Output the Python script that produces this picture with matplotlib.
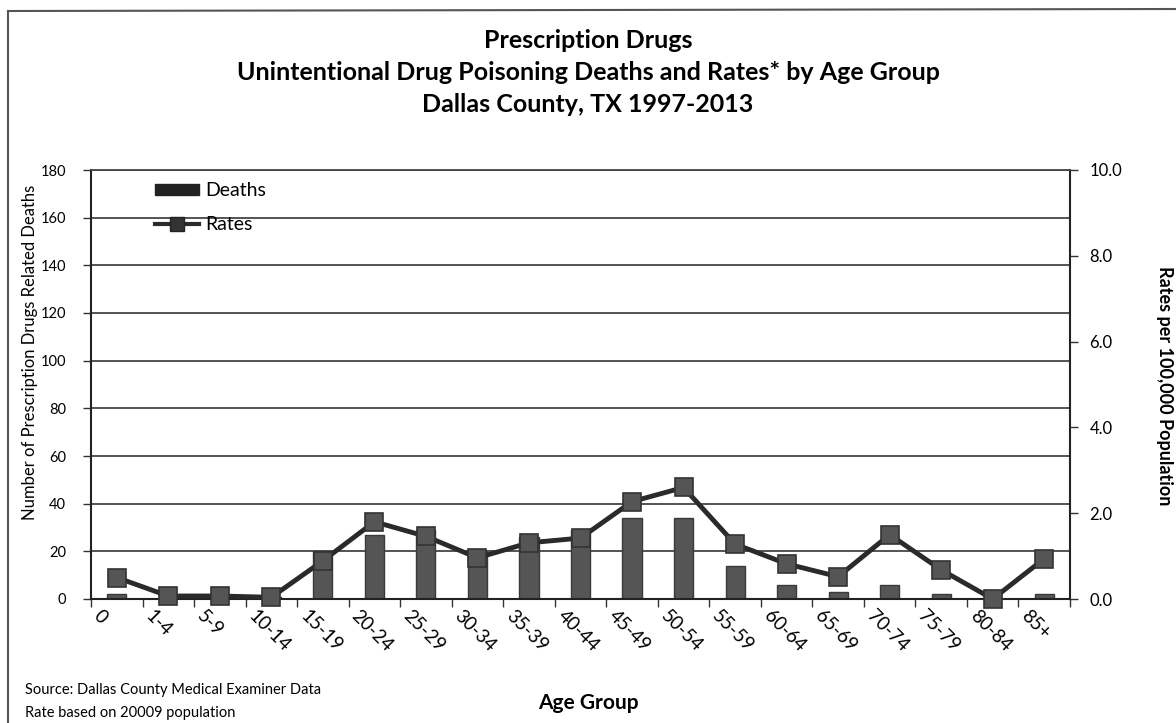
import numpy as np
import matplotlib
matplotlib.use('Agg')
import matplotlib.pyplot as plt
from matplotlib.patches import Patch
from matplotlib.lines import Line2D
from matplotlib.transforms import ScaledTranslation

plt.rcParams['font.family'] = ['Lato', 'DejaVu Sans']

age_groups = ['0', '1-4', '5-9', '10-14', '15-19', '20-24', '25-29', '30-34', '35-39',
              '40-44', '45-49', '50-54', '55-59', '60-64', '65-69', '70-74', '75-79',
              '80-84', '85+']
deaths = [2, 1, 1, 1, 20, 27, 29, 20, 26, 29, 34, 34, 14, 6, 3, 6, 2, 0, 2]
rates = [0.50, 0.07, 0.07, 0.04, 0.89, 1.80, 1.46, 0.96, 1.31, 1.42, 2.27, 2.60,
         1.28, 0.82, 0.52, 1.50, 0.68, 0.00, 0.94]

W, H = 1176, 723
fig = plt.figure(figsize=(W / 100, H / 100), dpi=100)

# plot area in pixels: left 91, right 1070, top 170, bottom 599
L, R, T, B = 91, 1070, 170, 599
ax = fig.add_axes([L / W, 1 - B / H, (R - L) / W, (B - T) / H])
x = np.arange(len(age_groups))

bar_color = '#555555'
ax.bar(x, deaths, width=0.37, color=bar_color, edgecolor='#3a3a3a', linewidth=1, zorder=2)
ax.set_xlim(-0.5, len(age_groups) - 0.5)
ax.set_ylim(0, 180)
ax.set_yticks(np.arange(0, 181, 20))
ax.yaxis.grid(True, color='#454545', linewidth=1.3)
ax.set_axisbelow(True)

ax.set_xticks(x)
ax.set_xticklabels(age_groups, rotation=-45, ha='left', va='top',
                   rotation_mode='anchor', fontsize=13.5)
ax.set_xticks(np.arange(-0.5, len(age_groups), 1), minor=True)
ax.tick_params(axis='x', which='major', length=0, pad=6)
ax.tick_params(axis='x', which='minor', length=6, width=1, color='#333333', direction='out')
ax.tick_params(axis='y', length=6, width=1, color='#333333', labelsize=10.5, pad=12)
shift = ScaledTranslation(-14 / 100, 0, fig.dpi_scale_trans)
for lbl in ax.get_xticklabels():
    lbl.set_transform(lbl.get_transform() + shift)

for side in ['left', 'right', 'bottom']:
    ax.spines[side].set_color('#222222')
    ax.spines[side].set_linewidth(1.5)
ax.spines['top'].set_color('#454545')
ax.spines['top'].set_linewidth(1.3)

ax2 = ax.twinx()
ax2.plot(x, rates, color='#2a2a2a', linewidth=3.5, marker='s', markersize=12.5,
         markerfacecolor=bar_color, markeredgecolor='#333333', markeredgewidth=1.2,
         clip_on=False, zorder=3)
ax2.set_ylim(0, 10)
ax2.set_yticks(np.arange(0, 10.1, 2))
ax2.set_yticklabels([f'{v:.1f}' for v in np.arange(0, 10.1, 2)])
ax2.tick_params(axis='y', length=6, width=1, color='#333333', labelsize=12, pad=8)
for side in ['left', 'right', 'bottom', 'top']:
    ax2.spines[side].set_visible(False)

# axis titles
fig.text(30 / W, 1 - 352 / H, 'Number of Prescription Drugs Related Deaths',
         rotation=90, ha='center', va='center', fontsize=12)
fig.text(1164 / W, 1 - 386 / H, 'Rates per 100,000 Population', rotation=-90,
         ha='center', va='center', fontsize=13, fontweight='bold')

handles = [Patch(facecolor='#222222', edgecolor='#222222'),
           Line2D([0], [0], color='#2a2a2a', linewidth=3, marker='s', markersize=10,
                  markerfacecolor='#333333', markeredgecolor='#222222')]
ax.legend(handles, ['Deaths', 'Rates'], loc='upper left', bbox_to_anchor=(0.047, 1.012),
          frameon=False, fontsize=14, handlelength=2.3, handleheight=0.55,
          handletextpad=0.3, labelspacing=0.85)

# titles
title_kw = dict(ha='center', va='center', fontsize=18, fontweight='bold')
fig.text(0.5, 1 - 40 / H, 'Prescription Drugs', **title_kw)
fig.text(0.5, 1 - 72 / H, 'Unintentional Drug Poisoning Deaths and Rates* by Age Group',
         **title_kw)
fig.text(0.5, 1 - 104 / H, 'Dallas County, TX 1997-2013', **title_kw)

fig.text(0.5, 1 - 703 / H, 'Age Group', ha='center', va='center',
         fontsize=15, fontweight='bold')
fig.text(25 / W, 1 - 690 / H, 'Source: Dallas County Medical Examiner Data',
         ha='left', va='center', fontsize=10.5)
fig.text(25 / W, 1 - 713 / H, 'Rate based on 20009 population',
         ha='left', va='center', fontsize=10.5)

# outer frame of the scanned chart box
frame_kw = dict(color='#555555', linewidth=1.5, transform=fig.transFigure)
fig.add_artist(Line2D([8 / W, 8 / W], [0, 1 - 11 / H], **frame_kw))
fig.add_artist(Line2D([8 / W, 1], [1 - 11 / H, 1 - 9 / H], **frame_kw))

fig.savefig('out.png', dpi=100)
